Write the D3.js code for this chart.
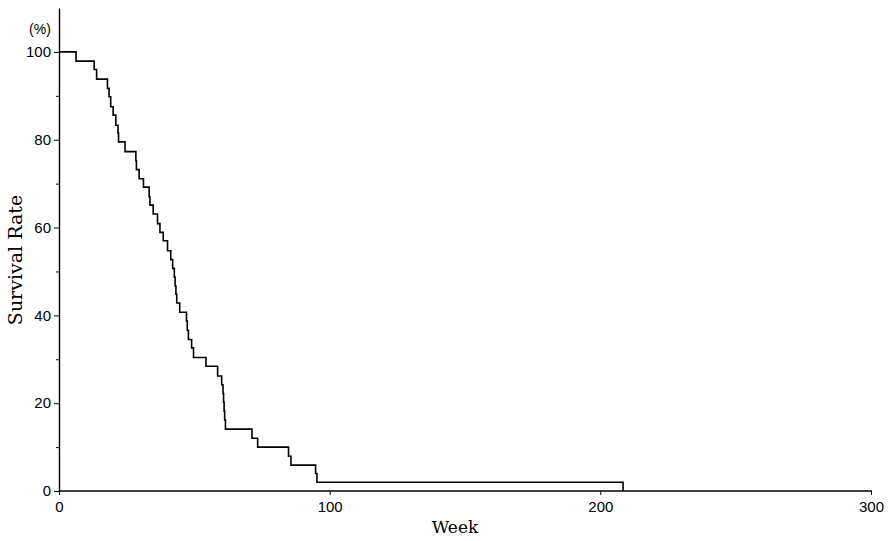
<!DOCTYPE html>
<html>
<head>
<meta charset="utf-8">
<script src="https://cdn.jsdelivr.net/npm/d3@7"></script>
<style>
  body { margin: 0; background: #fff; }
  svg { display: block; }
</style>
</head>
<body>
<div id="graph"></div>
<script>
'use strict';

// weeks at which the survival curve steps down, and the survival (%) after each step
const eventWeeks = [0, 6.3, 13.0, 13.9, 17.9, 18.5, 19.1, 20.0, 21.0, 21.8, 22.0, 24.4,
  28.4, 28.6, 29.6, 31.2, 33.3, 33.6, 34.8, 36.4, 37.3, 38.5, 40.1, 41.3, 42.0,
  42.6, 42.9, 43.2, 43.5, 44.6, 47.1, 47.4, 47.8, 49.0, 49.7, 54.3, 58.6, 60.1,
  60.6, 60.8, 61.0, 61.2, 61.5, 71.3, 73.4, 84.8, 85.7, 94.8, 95.3, 208.4];
const survivalPct = [100, 97.9, 96.0, 93.8, 91.7, 89.8, 87.5, 85.6, 83.3, 81.5, 79.5, 77.3,
  75.2, 73.2, 71.1, 69.2, 67.0, 65.1, 63.1, 60.9, 58.9, 57.0, 54.7, 52.7, 50.7,
  48.7, 46.7, 44.8, 42.8, 40.7, 38.7, 36.6, 34.5, 32.6, 30.4, 28.4, 26.2, 24.2,
  22.2, 20.2, 18.2, 16.2, 14.1, 12.0, 10.0, 7.9, 5.9, 4.0, 2.0, 0];

const xTicks = [0, 100, 200, 300];
const yTicks = [0, 20, 40, 60, 80, 100];
const yMinorTicks = [10, 30, 50, 70, 90];

(function() {
  const width = 888, height = 541;
  const svg = d3.select('#graph').append('svg')
    .attr('width', width)
    .attr('height', height);

  const x = d3.scaleLinear().domain([0, 300]).range([59, 871]);
  const y = d3.scaleLinear().domain([0, 110]).range([491, 8]);

  const sans = '"Liberation Sans", Arial, sans-serif';
  const serif = '"DejaVu Serif", "Liberation Serif", serif';

  // x axis
  const xAxis = svg.append('g')
    .attr('transform', 'translate(0,' + y(0) + ')')
    .call(d3.axisBottom(x).tickValues(xTicks).tickSize(4).tickSizeOuter(0).tickPadding(6));
  xAxis.select('.domain').attr('stroke', '#000').attr('stroke-width', 1.4)
    .attr('d', 'M' + x(0) + ',0H' + (x(300) + 1));
  xAxis.selectAll('text').style('font-family', sans).style('font-size', '15px').attr('fill', '#000');

  // y axis
  const yAxis = svg.append('g')
    .attr('transform', 'translate(' + x(0) + ',0)')
    .call(d3.axisLeft(y).tickValues(yTicks).tickSize(5).tickSizeOuter(0).tickPadding(3));
  yAxis.select('.domain').attr('stroke', '#000').attr('stroke-width', 1.4);
  yAxis.selectAll('text').style('font-family', sans).style('font-size', '15px').attr('fill', '#000');

  svg.append('g')
    .attr('transform', 'translate(' + x(0) + ',0)')
    .call(d3.axisLeft(y).tickValues(yMinorTicks).tickSize(3).tickFormat(''))
    .select('.domain').remove();

  // survival step curve
  const pts = eventWeeks.map((w, i) => [w, survivalPct[i]]);
  const line = d3.line()
    .x(d => x(d[0]))
    .y(d => y(d[1]))
    .curve(d3.curveStepAfter);
  svg.append('path')
    .datum(pts)
    .attr('d', line)
    .attr('fill', 'none')
    .attr('stroke', '#000')
    .attr('stroke-width', 1.6);

  // labels
  svg.append('text')
    .attr('x', 40).attr('y', 34)
    .attr('text-anchor', 'middle')
    .style('font-family', sans).style('font-size', '14px')
    .text('(%)');

  svg.append('text')
    .attr('x', 455).attr('y', 533)
    .attr('text-anchor', 'middle')
    .style('font-family', serif).style('font-size', '17px')
    .text('Week');

  svg.append('text')
    .attr('transform', 'translate(22,260)rotate(-90)')
    .attr('text-anchor', 'middle')
    .style('font-family', serif).style('font-size', '19px')
    .text('Survival Rate');
})();
</script>
</body>
</html>
